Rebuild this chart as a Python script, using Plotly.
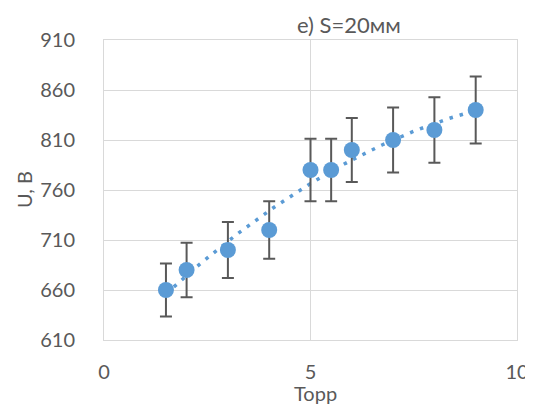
import numpy as np
import plotly.graph_objects as go

pressure = [1.5, 2, 3, 4, 5, 5.5, 6, 7, 8, 9]
voltage = [660, 680, 700, 720, 780, 780, 800, 810, 820, 840]
error_percent = 4
title_text = "e) S=20мм"
x_title = "Торр"
y_title = "U, B"

blue = "#5B9BD5"
grey_text = "#595959"
grid = "#D9D9D9"
font_family = "Lato, Open Sans, sans-serif"

# Polynomial (order 2) trendline, as drawn in the reference
coeffs = np.polyfit(pressure, voltage, 2)
trend_x = np.linspace(min(pressure), max(pressure), 120)
trend_y = np.polyval(coeffs, trend_x)

fig = go.Figure()
fig.add_trace(go.Scatter(
    x=trend_x, y=trend_y, mode="lines",
    line=dict(color=blue, width=3.5, dash="3.5px,7px"),
    hoverinfo="skip", showlegend=False,
))
fig.add_trace(go.Scatter(
    x=pressure, y=voltage, mode="markers",
    marker=dict(color=blue, size=16),
    error_y=dict(type="percent", value=error_percent, color=grey_text,
                 thickness=2, width=6),
    showlegend=False,
))

fig.update_layout(
    width=525, height=397,
    margin=dict(l=96, r=16, t=32, b=65, autoexpand=False),
    paper_bgcolor="white", plot_bgcolor="white",
    font=dict(family=font_family, color=grey_text, size=20),
    annotations=[
        dict(text=title_text, xref="paper", yref="paper",
             x=0.593, y=1.053, xanchor="center", yanchor="middle",
             showarrow=False, font=dict(size=22, color=grey_text, family=font_family)),
        dict(text=x_title, xref="paper", yref="paper",
             x=0.513, y=-0.175, xanchor="center", yanchor="middle",
             showarrow=False, font=dict(size=20, color=grey_text, family=font_family)),
        dict(text=y_title, xref="paper", yref="paper", textangle=-90,
             x=-0.194, y=0.503, xanchor="center", yanchor="middle",
             showarrow=False, font=dict(size=20, color=grey_text, family=font_family)),
    ],
)
fig.update_xaxes(
    range=[0, 10], tickvals=[0, 5, 10], showgrid=True, gridcolor=grid, gridwidth=1,
    showline=True, linecolor=grid, mirror=True, zeroline=False,
    ticks="", ticklabelstandoff=14, automargin=False,
)
fig.update_yaxes(
    range=[610, 910], tickvals=list(range(610, 911, 50)), showgrid=True,
    gridcolor=grid, gridwidth=1, showline=True, linecolor=grid, mirror=True,
    zeroline=False, ticks="", ticklabelstandoff=24, automargin=False,
)

fig.write_html("out.html")
